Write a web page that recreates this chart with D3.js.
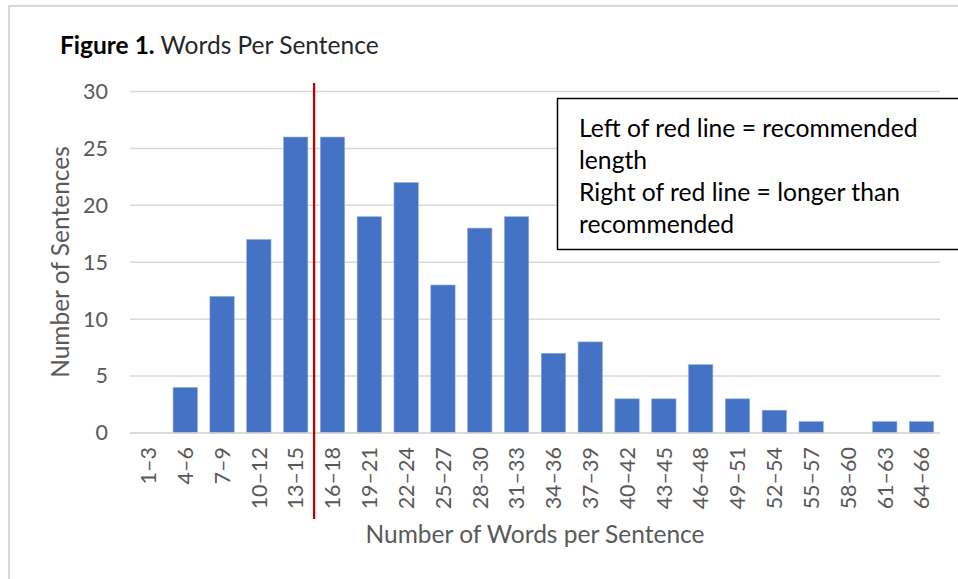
<!DOCTYPE html>
<html><head><meta charset="utf-8">
<script src="https://cdn.jsdelivr.net/npm/d3@7"></script>
<style>body{margin:0;background:#fff;} svg{display:block;}</style>
</head><body>
<svg id="c" width="958" height="579"></svg>
<script>
const categories = ["1–3","4–6","7–9","10–12","13–15","16–18","19–21","22–24","25–27","28–30","31–33","34–36","37–39","40–42","43–45","46–48","49–51","52–54","55–57","58–60","61–63","64–66"];
const counts = [0,4,12,17,26,26,19,22,13,18,19,7,8,3,3,6,3,2,1,0,1,1];
const yTicks = [0,5,10,15,20,25,30];
const legendLines = ["Left of red line = recommended","length","Right of red line = longer than","recommended"];
const splitAfter = "13–15";

const font = "Lato, 'Open Sans', sans-serif";
const svg = d3.select("#c");

// outer frame
svg.append("rect").attr("x",9).attr("y",6).attr("width",960).attr("height",600)
  .attr("fill","none").attr("stroke","#d9d9d9").attr("stroke-width",2);

const x = d3.scaleBand().domain(categories).range([130,940]).paddingInner(0.34).paddingOuter(0.17);
const y = d3.scaleLinear().domain([0,30]).range([433,91.5]);

// gridlines
svg.append("g").selectAll("line").data(yTicks).join("line")
  .attr("x1",130).attr("x2",940).attr("y1",d=>y(d)).attr("y2",d=>y(d))
  .attr("stroke","#d9d9d9").attr("stroke-width",1.5);

// y axis labels
const ya = svg.append("g").attr("transform","translate(108,0)")
  .call(d3.axisLeft(y).tickValues(yTicks).tickSize(0).tickPadding(0));
ya.select(".domain").remove();
ya.selectAll("text").attr("font-family",font).attr("font-size",21.5).attr("fill","#595959");

// bars
svg.append("g").selectAll("rect").data(counts).join("rect")
  .attr("x",(d,i)=>x(categories[i])).attr("width",x.bandwidth())
  .attr("y",d=>y(d)).attr("height",d=>y(0)-y(d))
  .attr("fill","#4472c4").attr("stroke","#8faadc").attr("stroke-width",0.6);

// x axis
const xa = svg.append("g").attr("transform","translate(0,433)")
  .call(d3.axisBottom(x).tickSize(0).tickPadding(0));
xa.select(".domain").remove();
xa.selectAll("text").attr("font-family",font).attr("font-size",21.5).attr("fill","#595959")
  .attr("transform","rotate(-90)").attr("text-anchor","end").attr("dy","0.36em")
  .attr("x",-14).attr("y",0);
svg.append("line").attr("x1",130).attr("x2",940).attr("y1",y(0)).attr("y2",y(0))
  .attr("stroke","#d9d9d9").attr("stroke-width",1.5);

// red line
const rx = x(splitAfter) + x.bandwidth() + (x.step()-x.bandwidth())/2;
svg.append("line").attr("x1",rx).attr("x2",rx).attr("y1",83).attr("y2",519)
  .attr("stroke","#c00000").attr("stroke-width",2.3);

// title
const t = svg.append("text").attr("x",60).attr("y",54).attr("font-family",font).attr("font-size",24.5).attr("fill","#000");
t.append("tspan").attr("font-weight","bold").text("Figure 1.");
t.append("tspan").attr("fill","#262626").text(" Words Per Sentence");

// axis titles
svg.append("text").attr("transform","translate(69,262) rotate(-90)").attr("text-anchor","middle")
  .attr("font-family",font).attr("font-size",24.5).attr("fill","#595959").text("Number of Sentences");
svg.append("text").attr("x",535).attr("y",543).attr("text-anchor","middle")
  .attr("font-family",font).attr("font-size",24.5).attr("fill","#595959").text("Number of Words per Sentence");

// annotation box
svg.append("rect").attr("x",557.5).attr("y",98.5).attr("width",420).attr("height",151)
  .attr("fill","#fff").attr("stroke","#000").attr("stroke-width",1.5);
svg.append("g").selectAll("text").data(legendLines).join("text")
  .attr("x",579).attr("y",(d,i)=>136.5+i*32.2)
  .attr("font-family",font).attr("font-size",24.7).attr("fill","#000").text(d=>d);
</script>
</body></html>
